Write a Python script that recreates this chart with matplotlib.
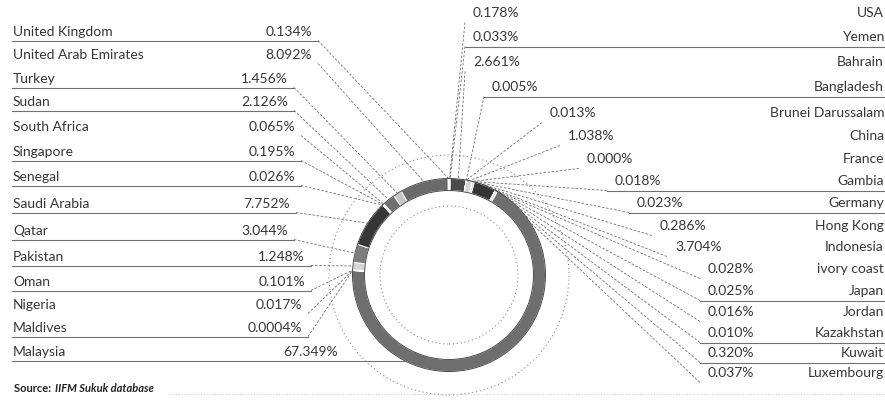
import matplotlib
matplotlib.use("Agg")
import matplotlib.pyplot as plt
import numpy as np

# Sukuk issuance share by country (%), in alphabetical order, clockwise from 12 o'clock
countries = [
    "USA", "Yemen", "Bahrain", "Bangladesh", "Brunei Darussalam", "China", "France",
    "Gambia", "Germany", "Hong Kong", "Indonesia", "ivory coast", "Japan", "Jordan",
    "Kazakhstan", "Kuwait", "Luxembourg", "Malaysia", "Maldives", "Nigeria", "Oman",
    "Pakistan", "Qatar", "Saudi Arabia", "Senegal", "Singapore", "South Africa", "Sudan",
    "Turkey", "United Arab Emirates", "United Kingdom",
]
shares = [
    0.178, 0.033, 2.661, 0.005, 0.013, 1.038, 0.000,
    0.018, 0.023, 0.286, 3.704, 0.028, 0.025, 0.016,
    0.010, 0.320, 0.037, 67.349, 0.0004, 0.017, 0.101,
    1.248, 3.044, 7.752, 0.026, 0.195, 0.065, 2.126,
    1.456, 8.092, 0.134,
]
source_note = "IIFM Sukuk database"

# ---- styling -------------------------------------------------------------
W, H = 885, 402
CX, CY = 449, 276          # ring centre (pixels from top-left)
R_OUT, RING_W = 96.5, 12
TEXT = "#363636"
FONT = "Lato"
FS = 10

slice_colors = {
    "USA": "#d4d4d4", "Yemen": "#8c8c8c", "Bahrain": "#4a4a4a", "Bangladesh": "#cccccc",
    "Brunei Darussalam": "#bdbdbd", "China": "#d6d6d6", "France": "#999999",
    "Gambia": "#aaaaaa", "Germany": "#8a8a8a", "Hong Kong": "#b8b8b8",
    "Indonesia": "#353535", "ivory coast": "#a0a0a0", "Japan": "#909090",
    "Jordan": "#b0b0b0", "Kazakhstan": "#9a9a9a", "Kuwait": "#cfcfcf",
    "Luxembourg": "#a5a5a5", "Malaysia": "#6e6e6e", "Maldives": "#9c9c9c",
    "Nigeria": "#acacac", "Oman": "#bababa", "Pakistan": "#d6d6d6", "Qatar": "#7d7d7d",
    "Saudi Arabia": "#363636", "Senegal": "#aaaaaa", "Singapore": "#d0d0d0",
    "South Africa": "#999999", "Sudan": "#717171", "Turkey": "#c6c6c6",
    "United Arab Emirates": "#6a6a6a", "United Kingdom": "#d6d6d6",
}
# rows that carry a visible rule under their label
ruled_rows = {
    "Yemen", "Bangladesh", "Gambia", "Germany", "Japan", "Kazakhstan", "Kuwait",
    "United Kingdom", "Turkey", "Sudan", "Singapore", "Senegal", "Saudi Arabia",
    "Qatar", "Pakistan", "Oman", "Maldives", "Malaysia",
}

# label layout: right column (USA..Luxembourg), left column (United Kingdom..Malaysia)
right_y = [13, 37, 62, 87, 113, 136, 159, 181, 203, 226, 247, 269, 291, 312, 333, 353, 373]
right_val_x = [473, 473, 473, 492, 550, 568, 587, 615, 637, 660, 675, 708, 708, 708, 708, 708, 708]
left_y = [32, 55, 79, 102, 127, 152, 177, 204, 231, 257, 282, 305, 328, 352]
left_val_x = [312, 312, 288, 288, 295, 295, 295, 290, 288, 305, 305, 302, 302, 338]


def fmt(v):
    return f"{v:.4f}%" if 0 < v < 0.001 else f"{v:.3f}%"


def Y(y):
    return H - y


fig = plt.figure(figsize=(W / 100, H / 100), dpi=100)
ax = fig.add_axes([0, 0, 1, 1])

# ---- ring ----------------------------------------------------------------
colors = [slice_colors[c] for c in countries]
ax.pie(shares, startangle=90, counterclock=False, radius=R_OUT, center=(CX, Y(CY)),
       colors=colors, frame=True,
       wedgeprops=dict(width=RING_W, edgecolor="white", linewidth=0.7))
for r in (R_OUT, R_OUT - RING_W):
    ax.add_patch(plt.Circle((CX, Y(CY)), r, fill=False, ec="#4a4a4a", lw=0.7, zorder=3))

# dotted guide circles
for r in (69, 120):
    ax.add_patch(plt.Circle((CX, Y(CY)), r, fill=False, ec="#8a8a8a", lw=0.8,
                            ls=(0, (1, 2.5)), zorder=1))

# mid angle of each slice, measured clockwise from 12 o'clock
total = float(np.sum(shares))
cum = np.cumsum([0.0] + list(shares))
mid_deg = {c: 360.0 * (cum[i] + shares[i] / 2) / total for i, c in enumerate(countries)}


def ring_point(deg, r=R_OUT):
    t = np.radians(deg)
    return CX + r * np.sin(t), CY - r * np.cos(t)


LEAD = dict(color="#6e6e6e", lw=0.6, ls=(0, (3, 2)), zorder=2)
RULE = dict(color="#707070", lw=0.8, zorder=2)

# ---- right column --------------------------------------------------------
right = countries[:17]
for name, y, vx in zip(right, right_y, right_val_x):
    v = shares[countries.index(name)]
    ax.text(vx, Y(y), fmt(v), ha="left", va="center", fontsize=FS, color=TEXT, family=FONT)
    ax.text(884, Y(y), name, ha="right", va="center", fontsize=FS, color=TEXT, family=FONT)
    ry = y + 10.5
    if name in ruled_rows:
        ax.plot([vx - 8, W], [Y(ry), Y(ry)], **RULE)
    px, py = ring_point(mid_deg[name])
    ax.plot([vx - 8, px], [Y(ry), Y(py)], **LEAD)

# ---- left column ---------------------------------------------------------
left = countries[17:][::-1]
for name, y, vx in zip(left, left_y, left_val_x):
    v = shares[countries.index(name)]
    ax.text(13, Y(y), name, ha="left", va="center", fontsize=FS, color=TEXT, family=FONT)
    ax.text(vx, Y(y), fmt(v), ha="right", va="center", fontsize=FS, color=TEXT, family=FONT)
    ry = y + 9.5
    if mid_deg[name] > 120 and v > 30:
        # large slice: rule runs straight into the ring
        ex = CX - np.sqrt(R_OUT ** 2 - (ry - CY) ** 2)
        ax.plot([12, ex], [Y(ry), Y(ry)], **RULE)
        continue
    if name in ruled_rows:
        ax.plot([12, vx + 6], [Y(ry), Y(ry)], **RULE)
    px, py = ring_point(mid_deg[name])
    ax.plot([vx + 6, px], [Y(ry), Y(py)], **LEAD)

# ---- source line ---------------------------------------------------------
ax.text(14, Y(389), "Source: ", ha="left", va="center", fontsize=8, color="#222222",
        family=FONT, fontweight="bold")
ax.text(55, Y(389), source_note, ha="left", va="center", fontsize=8, color="#222222",
        family=FONT, fontweight="bold", style="italic")
ax.plot([170, W], [Y(395), Y(395)], color="#cfcfcf", lw=0.8, ls=(0, (1, 1.5)))

ax.set_xlim(0, W)
ax.set_ylim(0, H)
ax.set_aspect("equal")
ax.axis("off")
fig.savefig("out.png", dpi=100)
